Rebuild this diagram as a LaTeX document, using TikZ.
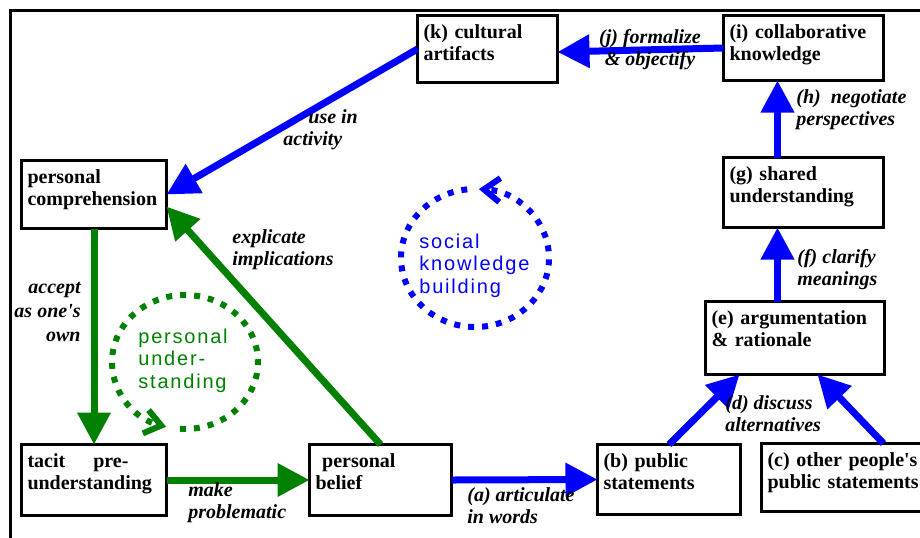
\documentclass[tikz,border=0pt]{standalone}
\usepackage{fontspec}
\setmainfont[Ligatures=TeXOff]{Liberation Serif}
\setsansfont[LetterSpace=9]{Liberation Sans}
\usetikzlibrary{arrows.meta}
\definecolor{kbblue}{HTML}{0000FF}
\definecolor{kbgreen}{HTML}{008000}

\begin{document}
\begin{tikzpicture}[
            x=0.5pt, y=-0.5pt,
            box/.style={draw, line width=1.5pt, anchor=north west, align=left, inner xsep=3pt, inner ysep=0pt, outer sep=0pt, text height=11.25pt, font=\bfseries\fontsize{10}{11}\selectfont},
            bluearrow/.style={draw=kbblue, line width=3.5pt, -{Triangle[length=16pt, width=16pt]}},
            greenarrow/.style={draw=kbgreen, line width=3.5pt, -{Triangle[length=16pt, width=16pt]}},
            lbl/.style={inner sep=0pt, font=\bfseries\itshape\fontsize{10}{11}\selectfont},
            loopline/.style={line width=3pt, dash pattern=on 3pt off 4pt, -{Straight Barb[length=8pt, width=12pt]}},
            looptext/.style={inner sep=0pt, align=left, anchor=base west, font=\sffamily\fontsize{10}{11.25}\selectfont}
        ]
            \useasboundingbox (0,0) rectangle (920,537);
            \draw[line width=1.5pt] (10.5,545) -- (10.5,10.5) -- (930,10.5);

            % Personal side
            \node[box, text width=66.5pt, text depth=22.75pt] (pc) at (21.5,160.5) {personal\\comprehension};
            \node[box, text width=66.5pt, text depth=24.25pt] (tacit) at (21.5,444.5) {\makebox[50.5pt][s]{tacit\hfill pre-}\\understanding};
            \node[box, text width=65pt, text depth=24.25pt] (belief) at (309.5,444.5) {\ personal\\belief};

            % Social side
            \node[box, text width=65.5pt, text depth=23.75pt] (b) at (597.5,444.5) {(b) public\\statements};
            \node[box, text width=90pt, text depth=22.75pt] (c) at (761.5,443.5) {(c) other people's\\public statements};
            \node[box, text width=83.5pt, text depth=25.25pt] (e) at (705.5,301.5) {(e) argumentation\\\& rationale};
            \node[box, text width=74pt, text depth=23.75pt] (g) at (723.5,157.5) {(g) shared\\understanding};
            \node[box, text width=74pt, text depth=21.25pt] (i) at (723.5,15.5) {(i) collaborative\\knowledge};
            \node[box, text width=64pt, text depth=22.25pt] (k) at (417.5,15.5) {(k) cultural\\artifacts};

            % Personal understanding cycle
            \draw[greenarrow] (pc.south) -- (tacit.north);
            \node[lbl, anchor=base east, align=right] (accept) at (81,341) {accept\\[1pt]as one's\\[1pt]own};
            \draw[greenarrow] (tacit.east) -- (belief.west);
            \node[lbl, anchor=base west, align=left] (make) at (188,518) {make\\problematic};
            \draw[greenarrow] (belief.north) -- ([yshift=-6pt]pc.east);
            \node[lbl, anchor=base west, align=left] (explicate) at (232,265) {explicate\\implications};

            % Social knowledge building cycle
            \draw[bluearrow] (belief.east) -- (b.west);
            \node[lbl, anchor=base west, align=left] (articulate) at (467,523) {(a) articulate\\in words};
            \draw[bluearrow] (b.north) -- ([xshift=17pt]e.south west);
            \draw[bluearrow] ([xshift=61pt]c.north west) -- ([xshift=56pt]e.south west);
            \node[lbl, anchor=base west, align=left] (discuss) at (725,431) {(d) discuss\\alternatives};
            \draw[bluearrow] ([xshift=36pt]e.north west) -- ([xshift=27pt]g.south west);
            \node[lbl, anchor=base west, align=left] (clarify) at (797,285) {(f) clarify\\meanings};
            \draw[bluearrow] ([xshift=27pt]g.north west) -- ([xshift=27pt]i.south west);
            \node[lbl, anchor=base west, align=left] (negotiate) at (796,125) {(h)\ \ negotiate\\perspectives};
            \draw[bluearrow] (i.west) -- ([yshift=-1.5pt]k.east);
            \node[lbl, anchor=base, align=center] (formalize) at (650,65) {(j) formalize\\\& objectify};
            \draw[bluearrow] (k.west) -- (pc.east);
            \node[lbl, anchor=base west, align=left] (use) at (283,145) {\hspace*{12.5pt}use in\\activity};

            % Cycles
            \node[looptext, text=kbgreen] (personal) at (138,388) {personal\\under-\\standing};
            \draw[loopline, kbgreen] (185,362) ++(266:36.5pt and 33.5pt) arc[start angle=266, end angle=615, x radius=36.5pt, y radius=33.5pt];
            \node[looptext, text=kbblue] (social) at (419,293) {social\\knowledge\\building};
            \draw[loopline, kbblue] (475,258) ++(96:37pt and 34.5pt) arc[start angle=96, end angle=447, x radius=37pt, y radius=34.5pt];
        \end{tikzpicture}
\end{document}
